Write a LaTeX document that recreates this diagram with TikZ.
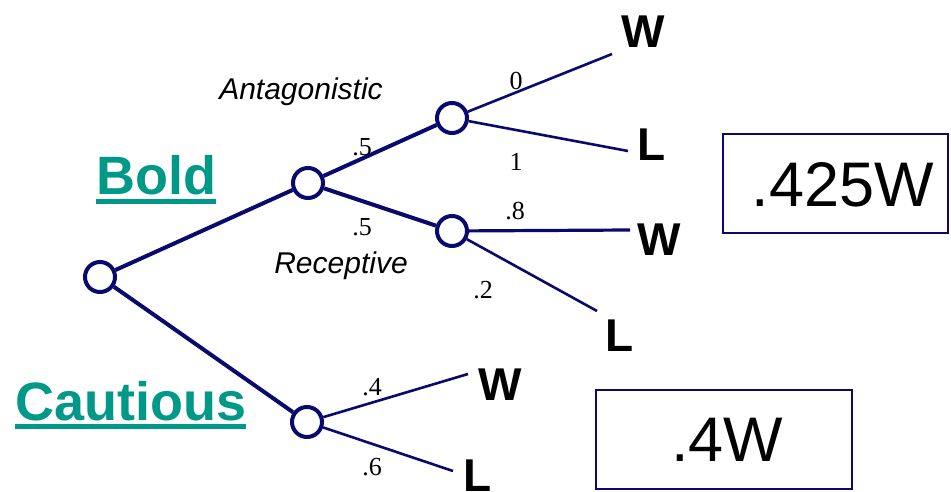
\documentclass[tikz,border=0pt]{standalone}
\usepackage{fontspec}
\setmainfont{Liberation Sans}
\newfontfamily\numfont{Liberation Serif}
\definecolor{navy}{RGB}{10,10,110}
\definecolor{tealtext}{RGB}{0,153,136}

\begin{document}
\begin{tikzpicture}[x=1pt,y=-1pt,
  chance/.style={circle,draw=navy,line width=4pt,fill=white,minimum size=30pt,inner sep=0pt},
  mainbranch/.style={draw=navy,line width=4pt},
  leafbranch/.style={draw=navy,line width=2.6pt},
  outcome/.style={font=\fontsize{46}{46}\selectfont\bfseries,inner sep=0pt},
  prob/.style={font=\numfont\fontsize{26}{26}\selectfont,inner sep=0pt},
  choice/.style={font=\fontsize{54}{54}\selectfont\bfseries,text=tealtext,inner sep=0pt,anchor=base west},
  event/.style={font=\fontsize{30}{30}\selectfont\itshape,inner sep=0pt},
  valuebox/.style={draw=navy,line width=2.5pt,inner sep=0pt},
  valuetext/.style={font=\fontsize{63}{63}\selectfont,inner sep=0pt}
]
\useasboundingbox (0,0) rectangle (951,492);

% chance nodes
\node[chance] (root) at (100,277) {};
\node[chance] (bold) at (308,183) {};
\node[chance] (antag) at (452,118) {};
\node[chance] (recep) at (452,231) {};
\node[chance] (caut) at (307,422) {};

% free ends of the outcome branches
\coordinate (aw) at (612,54);
\coordinate (al) at (628,151);
\coordinate (rw) at (630,230);
\coordinate (rl) at (597,311);
\coordinate (cw) at (468,374);
\coordinate (cl) at (453,471);

% branches
\draw[mainbranch] (root) -- (bold);
\draw[mainbranch] (root) -- (caut);
\draw[mainbranch] (bold) -- (antag);
\draw[mainbranch] (bold) -- (recep);
\draw[leafbranch] (antag) -- (aw);
\draw[leafbranch] (antag) -- (al);
\draw[leafbranch,line width=3.2pt] (recep) -- (rw);
\draw[leafbranch] (recep) -- (rl);
\draw[leafbranch] (caut) -- (cw);
\draw[leafbranch] (caut) -- (cl);

% outcomes
\node[outcome] (w1) at (643,32) {W};
\node[outcome] (l1) at (652,145) {L};
\node[outcome] (w2) at (659,240) {W};
\node[outcome] (l2) at (620,336) {L};
\node[outcome] (w3) at (500,385) {W};
\node[outcome] (l3) at (478,476) {L};

% probabilities
\node[prob] (p1) at (362,147) {.5};
\node[prob] (p2) at (362,227) {.5};
\node[prob] (p3) at (516,81) {0};
\node[prob] (p4) at (516,162) {1};
\node[prob] (p5) at (515,211) {.8};
\node[prob] (p6) at (483,290) {.2};
\node[prob] (p7) at (372,387) {.4};
\node[prob] (p8) at (372,467) {.6};

% event labels
\node[event] (ant) at (301,92) {Antagonistic};
\node[event] (rec) at (341,266) {Receptive};

% decision labels with heavy underline
\node[choice] (boldlbl) at (96,195) {Bold};
\fill[tealtext] ([yshift=-4pt]boldlbl.base west) rectangle ([yshift=-9pt]boldlbl.base east);
\node[choice] (cautlbl) at (15,420) {Cautious};
\fill[tealtext] ([yshift=-4pt]cautlbl.base west) rectangle ([yshift=-9pt]cautlbl.base east);

% expected values
\node[valuebox,minimum width=225pt,minimum height=99pt] (ev1) at (835.5,183.5) {};
\node[valuetext] (ev1txt) at (843,185) {.425W};
\node[valuebox,minimum width=256pt,minimum height=99pt] (ev2) at (724,439.5) {};
\node[valuetext] (ev2txt) at (727,440) {.4W};
\end{tikzpicture}
\end{document}
